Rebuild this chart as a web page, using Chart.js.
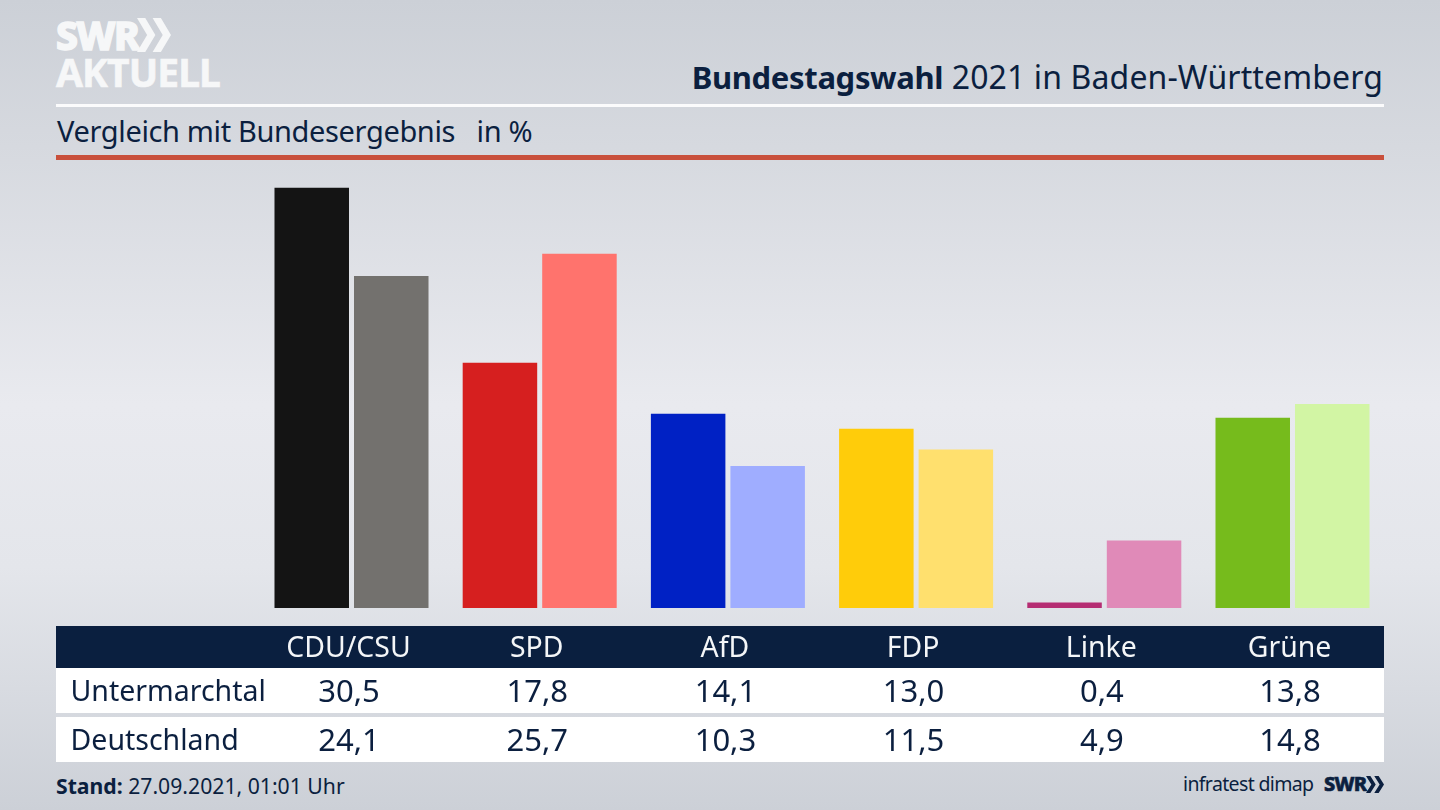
<!DOCTYPE html>
<html lang="de"><head><meta charset="utf-8">
<script src="https://cdn.jsdelivr.net/npm/chart.js@4"></script>
<style>
html,body{margin:0;padding:0;width:1440px;height:810px;overflow:hidden}
body{position:relative;font-family:"Noto Sans",sans-serif;color:#0b1f3f;
background:linear-gradient(180deg,#ccd0d7 0%,#d6d9df 18%,#e9eaef 50%,#e4e6eb 70%,#ccd0d7 100%)}
canvas{position:absolute;left:0;top:0}
.t{position:absolute;white-space:nowrap;line-height:1}
.r{position:absolute}
</style></head><body>
<div class="t" style="left:56px;top:15px;font-size:39px;font-weight:800;color:#f6f7f8;letter-spacing:-1.5px;-webkit-text-stroke:1.5px #f6f7f8">SWR</div>
<svg class="r" style="left:137px;top:18px" width="34" height="34" viewBox="0 0 37 31" preserveAspectRatio="none"><path fill="#f6f7f8" d="M0 0h9l11 15.500L9 31H0l11-15.500zM17 0h9l11 15.500L26 31h-9l11-15.500z"/></svg>
<div class="t" style="left:56px;top:52px;font-size:39px;font-weight:700;color:#f6f7f8;letter-spacing:-.9px;-webkit-text-stroke:.6px #f6f7f8">AKTUELL</div>
<div class="t" style="right:57px;top:61px;font-size:32px;letter-spacing:.12px"><b style="font-size:31px;letter-spacing:-.33px">Bundestagswahl</b> 2021 in Baden-Württemberg</div>
<div class="r" style="left:56px;top:104px;width:1328px;height:3px;background:#fbfbfc"></div>
<div class="t" style="left:57px;top:116px;font-size:29px;letter-spacing:-.36px">Vergleich mit Bundesergebnis&nbsp;&nbsp; in %</div>
<div class="r" style="left:56px;top:155px;width:1328px;height:5px;background:#c9503c"></div>
<div class="r" style="left:56px;top:626px;width:1328px;height:42px;background:#0a1f3f"></div>
<div class="r" style="left:56px;top:668px;width:1328px;height:45px;background:#fff"></div>
<div class="r" style="left:56px;top:717px;width:1328px;height:45px;background:#fff"></div>
<div class="t" style="left:56px;top:775px;font-size:21.2px"><b>Stand:</b> 27.09.2021, 01:01 Uhr</div>
<div class="t" style="left:1183px;top:774px;font-size:19.5px;letter-spacing:-.64px">infratest dimap</div>
<div class="t" style="left:1324px;top:774px;font-size:20px;font-weight:800;letter-spacing:-.8px;-webkit-text-stroke:.6px #0b1f3f">SWR</div>
<svg class="r" style="left:1366px;top:776px" width="18" height="17" viewBox="0 0 37 31" preserveAspectRatio="none"><path fill="#0b1f3f" d="M0 0h9l11 15.500L9 31H0l11-15.500zM17 0h9l11 15.500L26 31h-9l11-15.500z"/></svg>
<canvas id="c" width="1440" height="810"></canvas>
<script>
const parties = ["CDU/CSU","SPD","AfD","FDP","Linke","Grüne"];
const rowNameA = "Untermarchtal";
const rowNameB = "Deutschland";
const valuesA = [30.5,17.8,14.1,13.0,0.4,13.8];
const valuesB = [24.1,25.7,10.3,11.5,4.9,14.8];
const colorsA = ["#141414","#d61f1f","#0021c4","#ffcc0a","#b52d73","#76bb1c"];
const colorsB = ["#73716e","#ff736d","#9fadff","#ffe06e","#e08ab8","#d2f5a4"];
const navy = "#0b1f3f";
const fmt = v => v.toFixed(1).replace(".",",");
const rowsPlugin = {
  id:"rows",
  afterDraw(chart){
    const ctx=chart.ctx, x=chart.scales.x;
    ctx.save();
    ctx.fillStyle=navy; ctx.textBaseline="alphabetic";
    ctx.font='28.500px "Noto Sans"';
    ctx.textAlign="left";
    ctx.fillText(rowNameA,70.500,701);
    ctx.fillText(rowNameB,70.500,750);
    ctx.font='31px "Noto Sans"';
    ctx.textAlign="center";
    valuesA.forEach((v,i)=>ctx.fillText(fmt(v),x.getPixelForTick(i)-2.500,702));
    valuesB.forEach((v,i)=>ctx.fillText(fmt(v),x.getPixelForTick(i)-2.500,751));
    ctx.restore();
  }
};
new Chart(document.getElementById("c"),{
  type:"bar",
  data:{labels:parties,datasets:[
    {label:rowNameA,data:valuesA,backgroundColor:colorsA},
    {label:rowNameB,data:valuesB,backgroundColor:colorsB}
  ]},
  options:{
    responsive:false,animation:false,devicePixelRatio:1,
    layout:{padding:{left:257.4,right:53.4,top:180.8,bottom:0}},
    plugins:{legend:{display:false},tooltip:{enabled:false}},
    datasets:{bar:{categoryPercentage:0.845,barPercentage:0.937}},
    scales:{
      x:{grid:{display:false},border:{display:false},
         afterFit:s=>{s.height=202},
         ticks:{color:"#f4f6f8",font:{family:"Noto Sans",size:28.4},padding:16,labelOffset:-3,maxRotation:0,autoSkip:false}},
      y:{display:false,min:0,max:31}
    }
  },
  plugins:[rowsPlugin]
});
</script>
</body></html>
